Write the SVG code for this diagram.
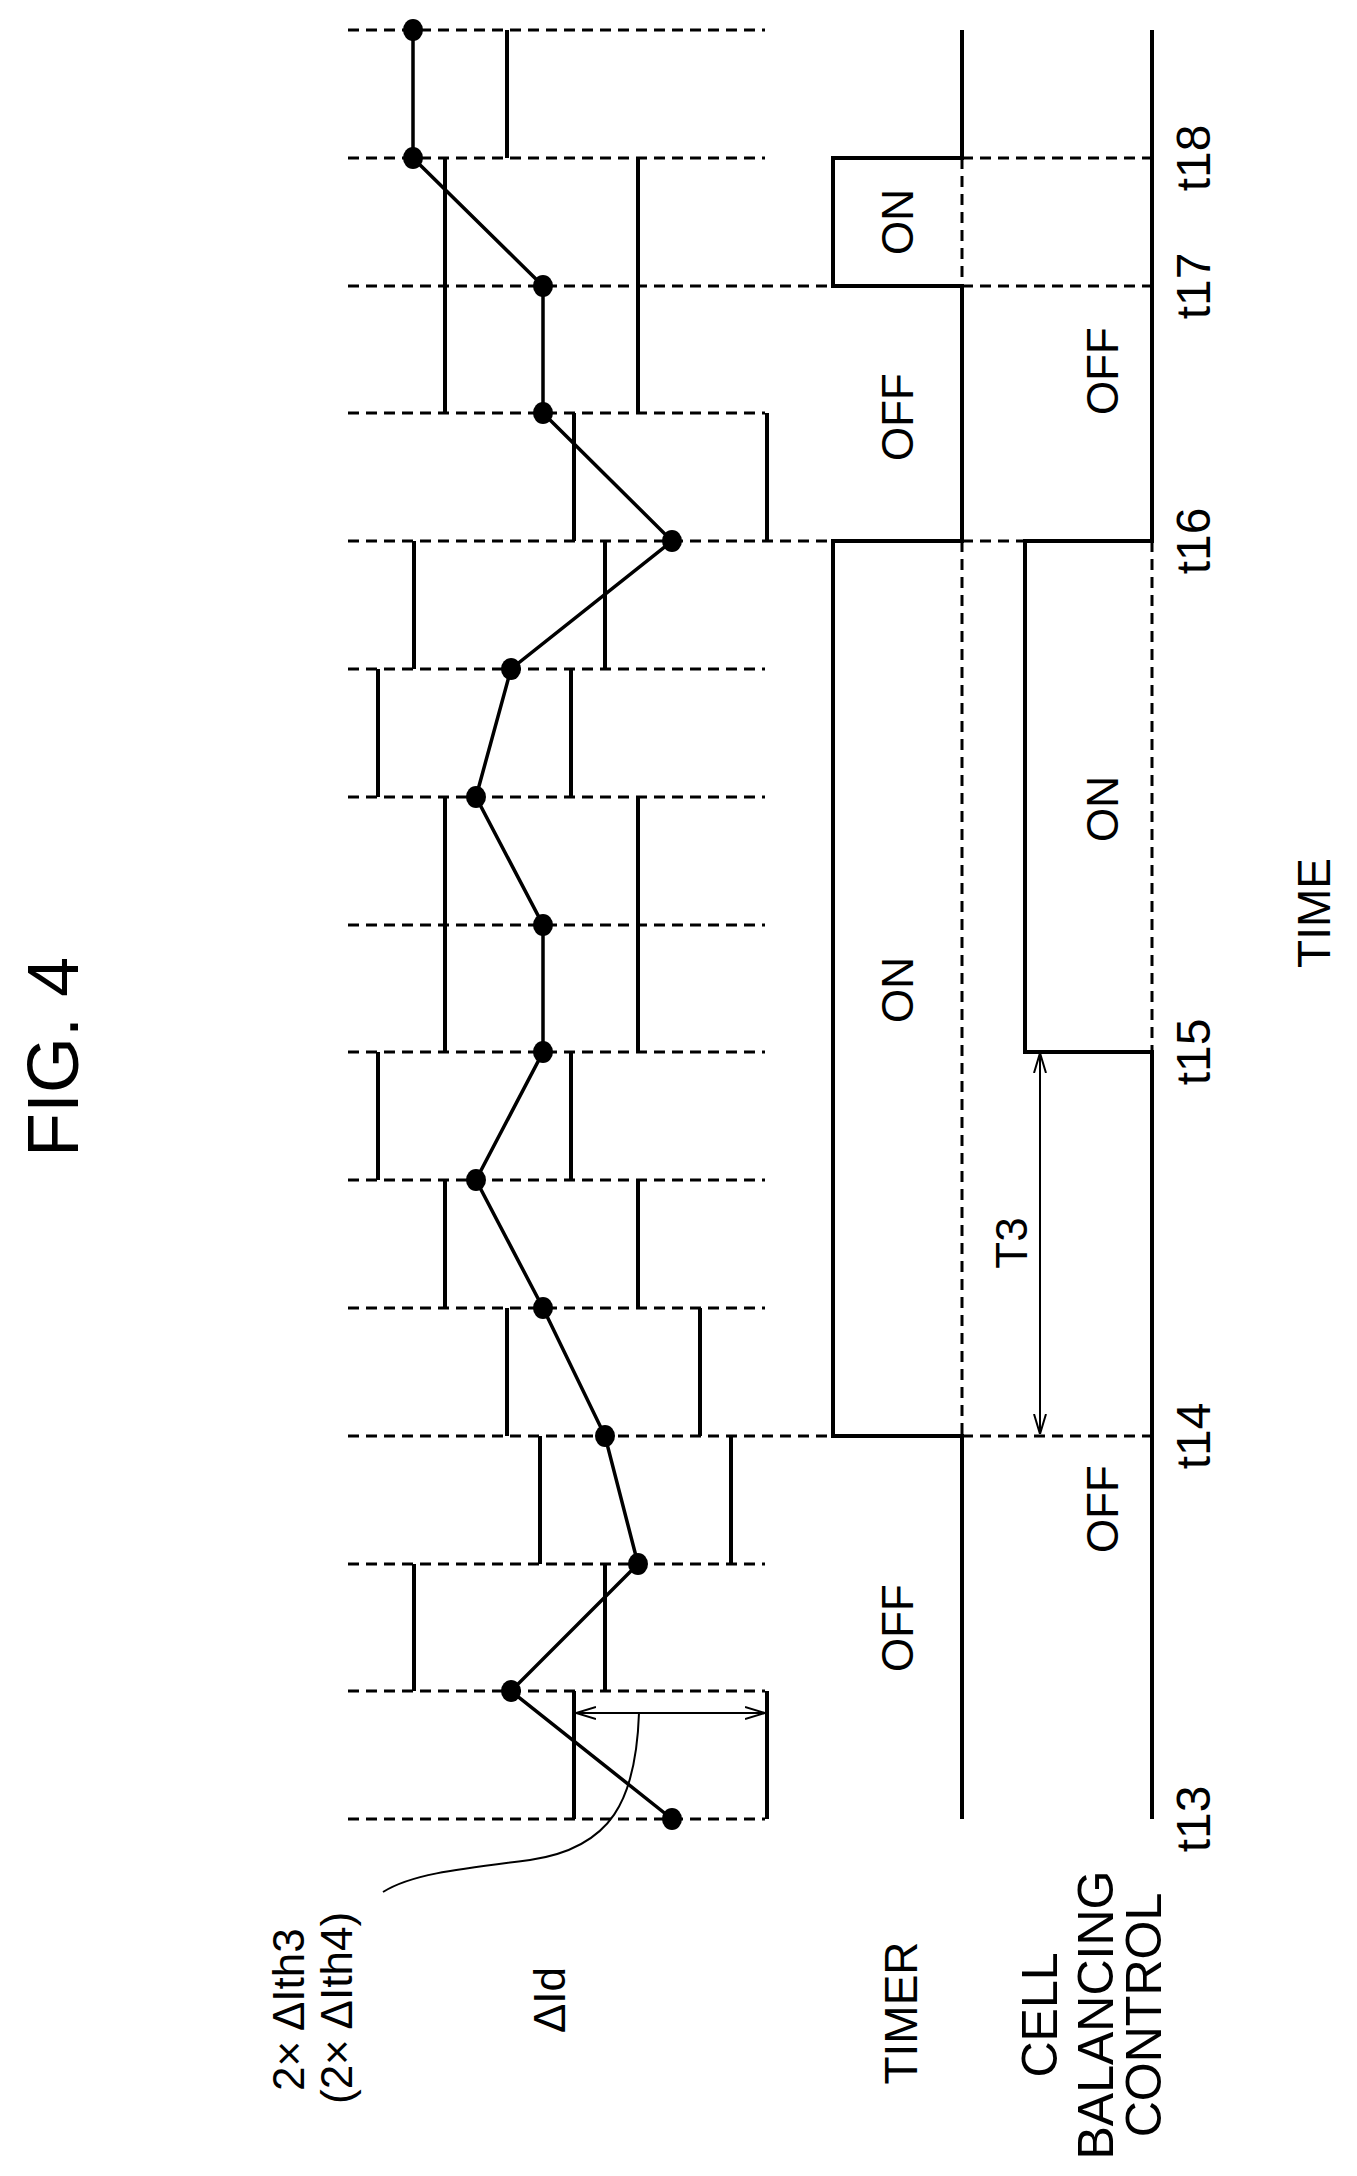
<svg xmlns="http://www.w3.org/2000/svg" width="1357" height="2176" viewBox="0 0 1357 2176">
<defs>
<style>
.d{stroke:#000;stroke-width:3;stroke-dasharray:11 7;fill:none}
.s{stroke:#000;stroke-width:4;fill:none}
.b{stroke:#000;stroke-width:4}
.t{font-family:"Liberation Sans",Arial,sans-serif;fill:#000}
.thin{stroke:#000;stroke-width:2;fill:none}
</style>
<marker id="ah" viewBox="0 0 20 20" refX="20" refY="10" markerWidth="20" markerHeight="20" markerUnits="userSpaceOnUse" orient="auto-start-reverse"><path d="M0,4 L20,10 L0,16" fill="none" stroke="#000" stroke-width="2"/></marker>
</defs>
<rect width="1357" height="2176" fill="#fff"/>
<g id="grid">
<path class="d" d="M348,30H765M348,158H765M348,286H833M348,413H765M348,541H833M348,669H765M348,797H765M348,925H765M348,1052H765M348,1180H765M348,1308H765M348,1436H833M348,1564H765M348,1691H765M348,1819H765"/>
<path class="d" d="M962,158H1152M962,286H1152M962,541H1025M962,1436H1152M962,158V286M962,541V1436M1152,541V1052"/>
</g>
<g id="bars" class="b">
<path d="M507,30V158M445,158V413M638,158V413M574,413V541M767,413V541M414,541V669M605,541V669M378,669V797M571,669V797M445,797V1052M638,797V1052M378,1052V1180M571,1052V1180M445,1180V1308M638,1180V1308M507,1308V1436M700,1308V1436M540,1436V1564M731,1436V1564M414,1564V1691M605,1564V1691M574,1691V1819M767,1691V1819"/>
</g>
<g id="current">
<polyline fill="none" stroke="#000" stroke-width="3.5" points="413,30 413,158 543,286 543,413 672,541 511,669 476,797 543,925 543,1052 476,1180 543,1308 605,1436 638,1564 511,1691 672,1819"/>
<g fill="#000">
<ellipse cx="413" cy="30" rx="10" ry="11"/><ellipse cx="413" cy="158" rx="10" ry="11"/><ellipse cx="543" cy="286" rx="10" ry="11"/><ellipse cx="543" cy="413" rx="10" ry="11"/><ellipse cx="672" cy="541" rx="10" ry="11"/><ellipse cx="511" cy="669" rx="10" ry="11"/><ellipse cx="476" cy="797" rx="10" ry="11"/><ellipse cx="543" cy="925" rx="10" ry="11"/><ellipse cx="543" cy="1052" rx="10" ry="11"/><ellipse cx="476" cy="1180" rx="10" ry="11"/><ellipse cx="543" cy="1308" rx="10" ry="11"/><ellipse cx="605" cy="1436" rx="10" ry="11"/><ellipse cx="638" cy="1564" rx="10" ry="11"/><ellipse cx="511" cy="1691" rx="10" ry="11"/><ellipse cx="672" cy="1819" rx="10" ry="11"/>
</g>
</g>
<g id="timer"><path class="s" d="M962,30V158H833V286H962V541H833V1436H962V1819"/></g>
<g id="cellbalancing"><path class="s" d="M1152,30V541H1025V1052H1152V1819"/></g>
<g id="connectors">
<line class="thin" x1="576" y1="1713" x2="765" y2="1713" marker-start="url(#ah)" marker-end="url(#ah)"/>
<path class="thin" d="M639,1713 C636,1800 612,1848 530,1860 C450,1870 410,1875 383,1892"/>
<line class="thin" x1="1040" y1="1053" x2="1040" y2="1434" marker-start="url(#ah)" marker-end="url(#ah)"/>
</g>
<g id="labels" class="t">
<text transform="translate(78,1057) rotate(-90)" font-size="72" text-anchor="middle">FIG. 4</text>
<text transform="translate(1330,913) rotate(-90)" font-size="46" text-anchor="middle">TIME</text>
<text transform="translate(304,2091) rotate(-90)" font-size="44">2× ΔIth3</text>
<text transform="translate(352,2104) rotate(-90)" font-size="44">(2× ΔIth4)</text>
<text transform="translate(565,2000) rotate(-90)" font-size="44" text-anchor="middle">ΔId</text>
<text transform="translate(917,2013) rotate(-90)" font-size="46" text-anchor="middle">TIMER</text>
<text transform="translate(1057,2015) rotate(-90)" font-size="50" text-anchor="middle">CELL</text>
<text transform="translate(1113,2015) rotate(-90)" font-size="50" text-anchor="middle">BALANCING</text>
<text transform="translate(1161,2015) rotate(-90)" font-size="50" text-anchor="middle">CONTROL</text>
<text transform="translate(1027,1243) rotate(-90)" font-size="44" text-anchor="middle">T3</text>
<g font-size="44" text-anchor="middle">
<text transform="translate(913,222) rotate(-90)">ON</text>
<text transform="translate(913,417) rotate(-90)">OFF</text>
<text transform="translate(913,990) rotate(-90)">ON</text>
<text transform="translate(913,1628) rotate(-90)">OFF</text>
<text transform="translate(1118,371) rotate(-90)">OFF</text>
<text transform="translate(1118,809) rotate(-90)">ON</text>
<text transform="translate(1118,1509) rotate(-90)">OFF</text>
</g>
<g font-size="48" text-anchor="middle">
<text transform="translate(1210,158) rotate(-90)">t18</text>
<text transform="translate(1210,286) rotate(-90)">t17</text>
<text transform="translate(1210,541) rotate(-90)">t16</text>
<text transform="translate(1210,1052) rotate(-90)">t15</text>
<text transform="translate(1210,1436) rotate(-90)">t14</text>
<text transform="translate(1210,1819) rotate(-90)">t13</text>
</g>
</g>
</svg>
